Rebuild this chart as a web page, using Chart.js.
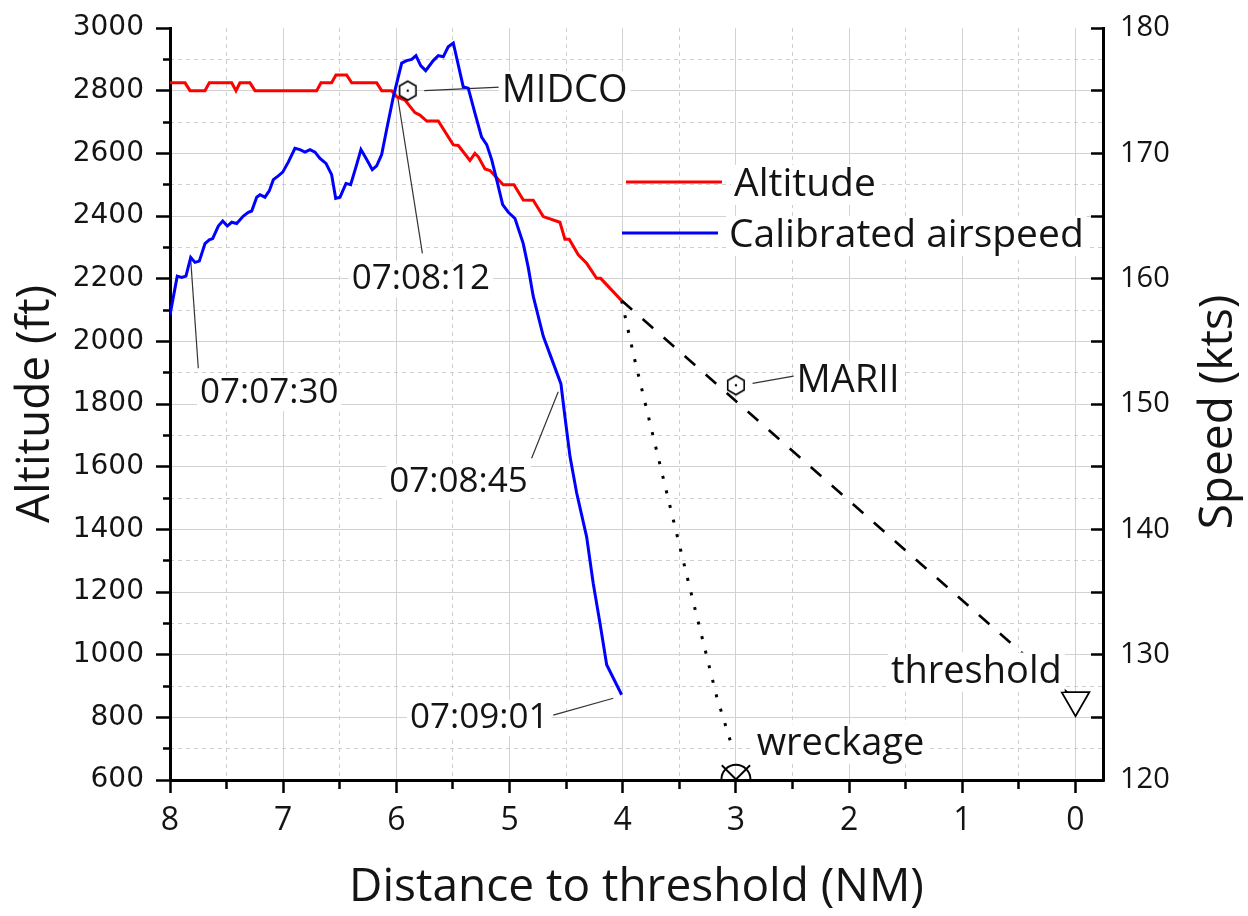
<!DOCTYPE html>
<html lang="en">
<head>
<meta charset="UTF-8" />
<title>Altitude and calibrated airspeed vs distance to threshold</title>
<script src="https://cdn.jsdelivr.net/npm/chart.js"></script>
<style>
  html, body { margin: 0; padding: 0; background: #fff; }
  #wrap { width: 1248px; height: 916px; }
</style>
</head>
<body>
<div id="wrap"><canvas id="chart"></canvas></div>
<script>
// distance to threshold (NM) vs recorded altitude (ft)
const altDist = [8.000, 7.867, 7.823, 7.691, 7.653, 7.455, 7.417, 7.382, 7.293, 7.249,
  6.704, 6.666, 6.572, 6.534, 6.439, 6.395, 6.174, 6.130, 6.042, 5.995,
  5.924, 5.880, 5.836, 5.792, 5.732, 5.630, 5.497, 5.453, 5.350, 5.306,
  5.276, 5.217, 5.173, 5.056, 4.961, 4.879, 4.791, 4.702, 4.555, 4.511,
  4.473, 4.393, 4.319, 4.231, 4.195, 4.010];
const altFt = [2825, 2825, 2800, 2800, 2825, 2825, 2800, 2825, 2825, 2800,
  2800, 2825, 2825, 2850, 2850, 2825, 2825, 2800, 2800, 2780,
  2770, 2750, 2730, 2722, 2703, 2703, 2627, 2625, 2577, 2600,
  2589, 2550, 2545, 2500, 2500, 2451, 2450, 2398, 2380, 2326,
  2326, 2276, 2249, 2201, 2201, 2130];

// distance to threshold (NM) vs calibrated airspeed (kts)
const speedDist = [8.000, 7.936, 7.897, 7.859, 7.817, 7.779, 7.741, 7.691, 7.653, 7.623,
  7.573, 7.534, 7.494, 7.455, 7.411, 7.352, 7.308, 7.278, 7.234, 7.205,
  7.161, 7.123, 7.087, 7.043, 7.004, 6.955, 6.896, 6.852, 6.807, 6.763,
  6.719, 6.675, 6.622, 6.572, 6.536, 6.498, 6.445, 6.404, 6.351, 6.313,
  6.262, 6.213, 6.174, 6.130, 6.086, 6.027, 5.953, 5.909, 5.865, 5.827,
  5.785, 5.741, 5.674, 5.630, 5.586, 5.542, 5.497, 5.409, 5.365, 5.306,
  5.247, 5.202, 5.158, 5.114, 5.061, 5.011, 4.952, 4.879, 4.835, 4.791,
  4.702, 4.628, 4.546, 4.511, 4.466, 4.407, 4.319, 4.261, 4.201, 4.142, 4.010];
const speedKts = [157.1, 160.2, 160.1, 160.2, 161.7, 161.3, 161.4, 162.8, 163.1, 163.2,
  164.2, 164.6, 164.2, 164.5, 164.4, 165.0, 165.3, 165.4, 166.5, 166.7,
  166.5, 167.0, 167.9, 168.2, 168.5, 169.3, 170.4, 170.3, 170.1, 170.3,
  170.1, 169.6, 169.2, 168.3, 166.4, 166.5, 167.6, 167.5, 169.1, 170.3,
  169.5, 168.7, 169.0, 169.9, 171.9, 174.5, 177.2, 177.4, 177.5, 177.8,
  177.0, 176.6, 177.4, 177.8, 177.7, 178.5, 178.8, 175.3, 175.2, 173.2,
  171.3, 170.7, 169.5, 167.9, 165.9, 165.3, 164.8, 162.8, 160.9, 158.6,
  155.4, 153.6, 151.6, 149.0, 145.8, 142.9, 139.4, 135.7, 132.5, 129.2, 126.8];

// nominal approach path and final path to the wreckage
const glideDist = [4.01, 0];
const glideAlt = [2130, 855];
const impactDist = [4.01, 3.90, 3.76, 3.61, 3.41, 3.17, 3.02];
const impactAlt = [2130, 1950, 1740, 1515, 1217, 866, 690];

// waypoints and ground references
const waypointDist = [5.9, 3.0];
const waypointAlt = [2800, 1860];
const wreckageDist = [3.0];
const wreckageAlt = [602];
const thresholdDist = [0];
const thresholdAlt = [855];

// callout texts (anchor = left end of text baseline, in data units)
const calloutText = ['07:07:30', '07:08:12', 'MIDCO', '07:08:45', '07:09:01', 'MARII', 'wreckage', 'threshold'];
const calloutDist = [7.735, 6.395, 5.070, 6.063, 5.880, 2.464, 2.817, 1.631];
const calloutAlt = [1803, 2166, 2765, 1520, 766, 1839, 680, 910];
const leaderFromDist = [7.817, 5.990, 5.754, 4.570, 4.084, 2.853];
const leaderFromAlt = [2260, 2783, 2800, 1839, 861, 1866];
const leaderToDist = [7.750, 5.770, 5.080, 4.805, 4.614, 2.479];
const leaderToAlt = [1914, 2281, 2811, 1627, 807, 1890];

const xMin = -0.243, xMax = 8;
const altMin = 600, altMax = 3000;
const ktsMin = 120, ktsMax = 180;

const gridSolid = '#d2d2d2';
const gridDash = '#cdcdcd';
const textColor = '#141414';
const isInt = v => Math.abs(v - Math.round(v)) < 1e-9;
const toPts = (xs, ys) => xs.map((x, i) => ({ x: x, y: ys[i] }));

// hexagon waypoint symbol
const hexagon = (() => {
  const c = document.createElement('canvas');
  c.width = 24; c.height = 24;
  const g = c.getContext('2d');
  g.beginPath();
  for (let k = 0; k < 6; k++) {
    const a = -Math.PI / 2 + k * Math.PI / 3;
    const px = 12 + 9.5 * Math.cos(a), py = 12 + 9.5 * Math.sin(a);
    if (k === 0) g.moveTo(px, py); else g.lineTo(px, py);
  }
  g.closePath();
  g.fillStyle = '#fff';
  g.fill();
  g.lineWidth = 1.6;
  g.strokeStyle = '#000';
  g.stroke();
  g.beginPath();
  g.arc(12, 12, 1.2, 0, Math.PI * 2);
  g.fillStyle = '#000';
  g.fill();
  return c;
})();

const leaderSets = leaderFromDist.map((d, i) => ({
  label: 'leader' + i,
  data: [{ x: d, y: leaderFromAlt[i] }, { x: leaderToDist[i], y: leaderToAlt[i] }],
  yAxisID: 'y',
  borderColor: '#333',
  borderWidth: 1.2,
  pointRadius: 0,
  order: 4
}));

function boxedText(ctx, text, px, py, size) {
  ctx.font = size + 'px "Open Sans"';
  const w = ctx.measureText(text).width;
  ctx.fillStyle = '#fff';
  ctx.fillRect(px - 3, py - size * 0.8, w + 6, size * 1.03);
  ctx.fillStyle = textColor;
  ctx.textAlign = 'left';
  ctx.textBaseline = 'alphabetic';
  ctx.fillText(text, px, py);
}

// no extra room for half-labels at the ends of the vertical axes
const noEndPadding = s => { s.paddingTop = 0; s.paddingBottom = 0; };

const overlay = {
  id: 'overlay',
  afterDatasetsDraw(chart) {
    const { ctx, chartArea } = chart;
    const sx = chart.scales.x, sy = chart.scales.y;
    ctx.save();
    calloutText.forEach((t, i) => {
      const size = t.indexOf(':') > 0 ? 35 : 38;
      boxedText(ctx, t, sx.getPixelForValue(calloutDist[i]), sy.getPixelForValue(calloutAlt[i]), size);
    });

    // legend
    const ds = chart.data.datasets;
    ctx.lineWidth = 3;
    ctx.strokeStyle = ds[0].borderColor;
    ctx.beginPath(); ctx.moveTo(626, 182); ctx.lineTo(722, 182); ctx.stroke();
    ctx.strokeStyle = ds[1].borderColor;
    ctx.beginPath(); ctx.moveTo(622, 233); ctx.lineTo(718, 233); ctx.stroke();
    boxedText(ctx, ds[0].label, 734, 196, 39);
    boxedText(ctx, ds[1].label, 729, 247, 39);

    // right axis title, reading bottom to top like the left one
    const r = chart.scales.y1;
    ctx.translate(r.right - 16, (chartArea.top + chartArea.bottom) / 2 + 8);
    ctx.rotate(-Math.PI / 2);
    ctx.font = '46px "Open Sans"';
    ctx.fillStyle = textColor;
    ctx.textAlign = 'center';
    ctx.textBaseline = 'alphabetic';
    ctx.fillText('Speed (kts)', 0, 0);
    ctx.restore();
  }
};

new Chart(document.getElementById('chart'), {
  type: 'line',
  data: {
    datasets: [
      {
        label: 'Altitude',
        data: toPts(altDist, altFt),
        yAxisID: 'y',
        borderColor: '#ff0000',
        borderWidth: 3,
        pointRadius: 0,
        order: 2
      },
      {
        label: 'Calibrated airspeed',
        data: toPts(speedDist, speedKts),
        yAxisID: 'y1',
        borderColor: '#0000ff',
        borderWidth: 3,
        pointRadius: 0,
        order: 1
      },
      {
        label: 'glide',
        data: toPts(glideDist, glideAlt),
        yAxisID: 'y',
        borderColor: '#000',
        borderWidth: 2.6,
        borderDash: [14, 14],
        pointRadius: 0,
        order: 3
      },
      {
        label: 'impact',
        data: toPts(impactDist, impactAlt),
        yAxisID: 'y',
        borderColor: '#000',
        borderWidth: 3,
        borderDash: [3, 12],
        pointRadius: 0,
        order: 3
      },
      ...leaderSets,
      {
        label: 'waypoints',
        data: toPts(waypointDist, waypointAlt),
        yAxisID: 'y',
        showLine: false,
        pointStyle: hexagon,
        pointRadius: 10,
        order: 0
      },
      {
        label: 'wreckage',
        data: toPts(wreckageDist, wreckageAlt),
        yAxisID: 'y',
        showLine: false,
        pointStyle: 'circle',
        pointRadius: 14.5,
        pointBorderWidth: 2,
        pointBorderColor: '#000',
        pointBackgroundColor: 'rgba(0,0,0,0)',
        clip: 0,
        order: 0
      },
      {
        label: 'wreckageX',
        data: toPts(wreckageDist, wreckageAlt),
        yAxisID: 'y',
        showLine: false,
        pointStyle: 'crossRot',
        pointRadius: 20,
        pointBorderWidth: 2,
        pointBorderColor: '#000',
        clip: 0,
        order: 0
      },
      {
        label: 'threshold',
        data: toPts(thresholdDist, thresholdAlt),
        yAxisID: 'y',
        showLine: false,
        pointStyle: 'triangle',
        rotation: 180,
        pointRadius: 16,
        pointBorderWidth: 1.8,
        pointBorderColor: '#000',
        pointBackgroundColor: '#fff',
        order: 0
      }
    ]
  },
  options: {
    responsive: true,
    maintainAspectRatio: false,
    devicePixelRatio: 1,
    animation: false,
    layout: { padding: { top: 28, left: 0, right: 0, bottom: 0 } },
    plugins: { legend: { display: false }, tooltip: { enabled: false } },
    scales: {
      x: {
        type: 'linear',
        position: 'bottom',
        reverse: true,
        min: xMin,
        max: xMax,
        afterFit: s => { s.height = 136; s.paddingLeft = 0; s.paddingRight = 0; },
        ticks: {
          stepSize: 0.5,
          autoSkip: false,
          includeBounds: false,
          maxRotation: 0,
          padding: 9,
          color: textColor,
          font: { family: 'Open Sans', size: 32 },
          callback: v => isInt(v) ? String(v) : ''
        },
        grid: {
          color: c => (c.tick && isInt(c.tick.value) && c.tick.value !== xMax) ? gridSolid : 'rgba(0,0,0,0)',
          lineWidth: 1,
          tickLength: 13,
          tickWidth: 2.5,
          tickColor: '#000',
          tickBorderDash: c => (c.tick && isInt(c.tick.value)) ? [] : [7, 100]
        },
        border: { color: '#000', width: 3 },
        title: {
          display: true,
          text: 'Distance to threshold (NM)',
          color: textColor,
          font: { family: 'Open Sans', size: 46 },
          padding: { top: 0, bottom: 1 }
        }
      },
      xMinor: {
        type: 'linear',
        position: 'top',
        reverse: true,
        min: xMin,
        max: xMax,
        afterFit: s => { s.height = 0; s.paddingLeft = 0; s.paddingRight = 0; },
        ticks: { display: false, stepSize: 0.5, autoSkip: false, includeBounds: false },
        grid: {
          color: c => (c.tick && !isInt(c.tick.value)) ? gridDash : 'rgba(0,0,0,0)',
          lineWidth: 1,
          drawTicks: false
        },
        border: { display: false, dash: [4, 4] }
      },
      y: {
        type: 'linear',
        position: 'left',
        min: altMin,
        max: altMax,
        afterFit: s => { s.width = 170; noEndPadding(s); },
        ticks: {
          stepSize: 100,
          autoSkip: false,
          padding: 12,
          color: textColor,
          font: { family: 'DejaVu Sans', size: 28 },
          callback: v => v % 200 === 0 ? String(v) : ''
        },
        grid: {
          color: c => (c.tick && c.tick.value % 200 === 0 && c.tick.value !== altMax) ? gridSolid : 'rgba(0,0,0,0)',
          lineWidth: 1,
          tickLength: 14,
          tickWidth: 2.5,
          tickColor: '#000',
          tickBorderDash: c => (c.tick && c.tick.value % 200 === 0) ? [] : [0, 7, 7, 100]
        },
        border: { color: '#000', width: 3 },
        title: {
          display: true,
          text: 'Altitude (ft)',
          color: textColor,
          font: { family: 'Open Sans', size: 46 },
          padding: { top: 8, bottom: 0 }
        }
      },
      yMinor: {
        type: 'linear',
        position: 'left',
        weight: 5,
        min: altMin,
        max: altMax,
        afterFit: s => { s.width = 0; noEndPadding(s); },
        ticks: { display: false, stepSize: 100, autoSkip: false },
        grid: {
          color: c => (c.tick && c.tick.value % 200 !== 0) ? gridDash : 'rgba(0,0,0,0)',
          lineWidth: 1,
          drawTicks: false
        },
        border: { display: false, dash: [4, 4] }
      },
      y1: {
        type: 'linear',
        position: 'right',
        min: ktsMin,
        max: ktsMax,
        afterFit: s => { s.width = 145; noEndPadding(s); },
        ticks: {
          stepSize: 5,
          autoSkip: false,
          padding: 29,
          color: textColor,
          font: { family: 'Open Sans', size: 29 },
          callback: v => v % 10 === 0 ? String(v) : ''
        },
        grid: {
          drawOnChartArea: false,
          tickLength: -12,
          tickWidth: 2.5,
          tickColor: '#000'
        },
        border: { color: '#000', width: 3 }
      }
    }
  },
  plugins: [overlay]
});
</script>
</body>
</html>
